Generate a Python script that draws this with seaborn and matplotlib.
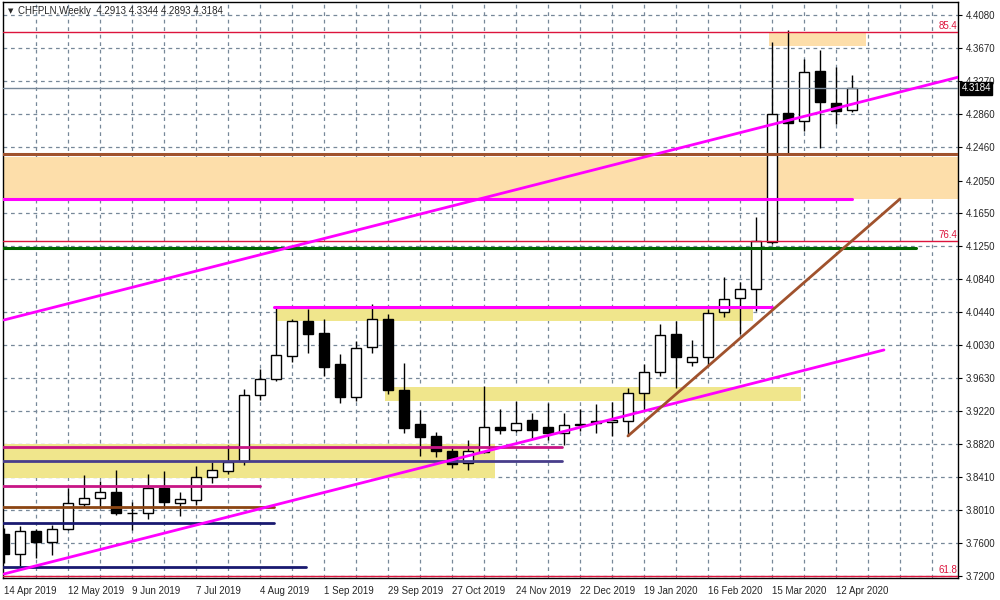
import numpy as np
import pandas as pd
import matplotlib
matplotlib.use('Agg')
import matplotlib.pyplot as plt
import seaborn as sns

# weekly candles from 14 Apr 2019 (open, high, low, close)
opens = [3.7711, 3.7466, 3.7752, 3.7613, 3.7773, 3.8079, 3.8153, 3.8230, 3.7972, 3.7969,
         3.8276, 3.8092, 3.8128, 3.8410, 3.8491, 3.8614, 3.9416, 3.9612, 3.9902, 4.0327,
         4.0180, 3.9800, 3.9399, 4.0005, 4.0352, 3.9481, 3.9064, 3.8917, 3.8733, 3.8582,
         3.8724, 3.9024, 3.8990, 3.9113, 3.9031, 3.8957, 3.9064, 3.9097, 3.9085, 3.9105,
         3.9441, 3.9698, 4.0164, 3.9821, 3.9882, 4.0434, 4.0606, 4.0716, 4.1300, 4.2875,
         4.2776, 4.3393, 4.2997, 4.2913]
highs = [3.7789, 3.7813, 3.7776, 3.7825, 3.8276, 3.8439, 3.8365, 3.8500, 3.8111, 3.8451,
         3.8491, 3.8226, 3.8549, 3.8602, 3.8807, 3.9493, 3.9742, 4.0503, 4.0348, 4.0474,
         4.0348, 3.9923, 4.0086, 4.0536, 4.0413, 3.9809, 3.9236, 3.8970, 3.8794, 3.8868,
         3.9530, 3.9244, 3.9346, 3.9203, 3.9318, 3.9195, 3.9244, 3.9309, 3.9330, 3.9502,
         3.9800, 4.0287, 4.0331, 4.0094, 4.0474, 4.0863, 4.0802, 4.1607, 4.3745, 4.3896,
         4.3540, 4.3651, 4.3442, 4.3344]
lows = [3.7360, 3.7323, 3.7417, 3.7458, 3.7764, 3.8050, 3.8046, 3.7948, 3.7764, 3.7895,
        3.8043, 3.7940, 3.8071, 3.8337, 3.8451, 3.8561, 3.9358, 3.9595, 3.9828, 3.9939,
        3.9653, 3.9325, 3.9350, 3.9939, 3.9428, 3.8957, 3.8672, 3.8663, 3.8521, 3.8500,
        3.8705, 3.8941, 3.8966, 3.8880, 3.8868, 3.8807, 3.8982, 3.8957, 3.8917, 3.8917,
        3.9236, 3.9656, 3.9502, 3.9779, 3.9788, 4.0380, 4.0164, 4.0454, 4.1272, 4.2391,
        4.2661, 4.2453, 4.2740, 4.2893]
closes = [3.7466, 3.7752, 3.7613, 3.7776, 3.8092, 3.8153, 3.8226, 3.7976, 3.7976, 3.8276,
          3.8104, 3.8141, 3.8418, 3.8496, 3.8594, 3.9420, 3.9616, 3.9910, 4.0327, 4.0172,
          3.9767, 3.9399, 3.9993, 4.0348, 3.9481, 3.9019, 3.8908, 3.8737, 3.8570, 3.8733,
          3.9024, 3.8990, 3.9073, 3.8990, 3.8957, 3.9052, 3.9048, 3.9080, 3.9113, 3.9441,
          3.9698, 4.0152, 3.9890, 3.9882, 4.0422, 4.0593, 4.0716, 4.1308, 4.2862, 4.2752,
          4.3377, 4.3017, 4.2906, 4.3184]

price_ticks = [4.4080, 4.3670, 4.3270, 4.2860, 4.2460, 4.2050, 4.1650, 4.1250, 4.0840,
               4.0440, 4.0030, 3.9630, 3.9220, 3.8820, 3.8410, 3.8010, 3.7600, 3.7200]

# chart objects, in week index units: (start, end, price)
yellow_zones = [(-1, 30.7, 3.8398, 3.8815), (17, 46.8, 4.0331, 4.0490), (23.8, 49.8, 3.9350, 3.9518)]
orange_zones = [(-1, 61, 4.1824, 4.2342), (47.8, 53.9, 4.3696, 4.3876)]
h_levels = [
    (-1, 34.9, 3.8786, '#c71585', 2.0),
    (-1, 34.9, 3.8614, '#483d8b', 2.0),
    (-1, 16.0, 3.8307, '#c71585', 2.0),
    (-1, 16.9, 3.8050, '#8b4513', 2.0),
    (-1, 16.9, 3.7854, '#191970', 2.0),
    (-1, 18.9, 3.7307, '#191970', 2.0),
    (16.9, 48.0, 4.0503, '#ff00ff', 2.2),
    (-1, 53.0, 4.1824, '#ff00ff', 2.2),
    (-1, 57.0, 4.1226, '#006400', 2.2),
    (-1, 61, 4.2379, '#a0522d', 2.2),
]
fib_levels = [(4.3868, '85.4'), (4.1305, '76.4'), (3.7200, '61.8')]
trend_lines = [
    ((0, 61), (4.0340, 4.0340 + 61 * 0.004993), '#ff00ff'),
    ((0, 55), (3.7225, 3.9972), '#ff00ff'),
    ((39, 56), (3.8917, 4.1824), '#a0522d'),
]
last_price = 4.3184

dates = pd.date_range('2019-04-14', periods=len(opens), freq='7D')
df = pd.DataFrame({'open': opens, 'high': highs, 'low': lows, 'close': closes}, index=dates)
df['k'] = np.arange(len(df))

sns.set_style('white')
plt.rcParams['font.family'] = ['Liberation Sans', 'DejaVu Sans']

fig = plt.figure(figsize=(10, 6), dpi=100)
ax = fig.add_axes([0.0025, 0.0367, 0.956, 0.96])
ax.set_xlim(-0.094, 59.66)
ax.set_ylim(3.71755, 4.4240)

# zones in the background
for x0, x1, p0, p1 in yellow_zones:
    ax.fill_between([x0, x1], p0, p1, color='#f0e68c', lw=0, zorder=1)
for x0, x1, p0, p1 in orange_zones:
    ax.fill_between([x0, x1], p0, p1, color='#fddeaa', lw=0, zorder=1)

# grid
grid_kw = dict(color='#778899', lw=0.9, ls=(0, (3, 3)), zorder=0.5)
for p in price_ticks:
    ax.axhline(p, **grid_kw)
for k in range(2, 60, 2):
    ax.axvline(k, **grid_kw)

# candles
ax.vlines(df['k'], df['low'], df['high'], color='black', lw=1, zorder=3)
body = (df['close'] - df['open']).where(lambda s: s.abs() > 0.0004, 0.0004)
colors = np.where(df['close'] >= df['open'], 'white', 'black')
ax.bar(df['k'], body, bottom=df['open'], width=0.62, color=colors,
       edgecolor='black', linewidth=1, zorder=3)

# levels and trend lines
for x0, x1, p, c, w in h_levels:
    sns.lineplot(x=[x0, x1], y=[p, p], color=c, lw=w, ax=ax, zorder=4)
ax.axhline(last_price, color='#778899', lw=1, zorder=4)
for p, lab in fib_levels:
    ax.axhline(p, color='#dc143c', lw=1, zorder=4)
    ax.text(59.6, p + 0.0012, lab, color='#dc143c', fontsize=7, ha='right', va='bottom', zorder=6)
for xs, ys, c in trend_lines:
    sns.lineplot(x=list(xs), y=list(ys), color=c, lw=2, ax=ax, zorder=4)

# axes
ax.yaxis.tick_right()
ax.set_yticks(price_ticks)
ax.set_yticklabels([f'{p:.4f}' for p in price_ticks], fontsize=7)
lab_k = df['k'][::4]
ax.set_xticks(lab_k)
ax.set_xticklabels([f'{d.day} {d:%b %Y}' for d in df.index[::4]], fontsize=7, ha='left')
ax.tick_params(axis='both', direction='out', length=3, width=0.8, color='black', pad=2)
ax.tick_params(axis='x', pad=3)
ax.set_xlabel('')
ax.set_ylabel('')
for s in ax.spines.values():
    s.set_color('black')
    s.set_linewidth(1)
    s.set_visible(True)

ax.text(1.003, last_price, '4.3184', transform=ax.get_yaxis_transform(), color='white',
        fontsize=7, va='center', ha='left', zorder=10, clip_on=False,
        bbox=dict(boxstyle='square,pad=0.15', fc='black', ec='black'))

fig.text(0.008, 0.982, '▼', fontsize=5, va='center', ha='left', family=['DejaVu Sans'])
fig.text(0.018, 0.982, 'CHFPLN,Weekly  4.2913 4.3344 4.2893 4.3184', fontsize=7,
         va='center', ha='left')

fig.savefig('out.png', dpi=100)
